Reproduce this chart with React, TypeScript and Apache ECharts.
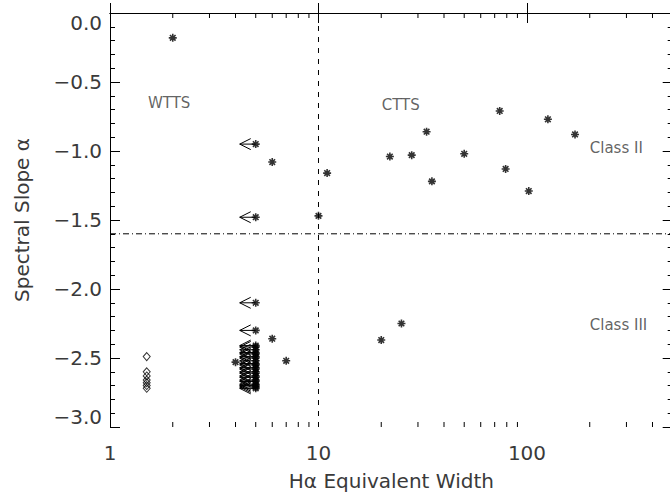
import React, { useEffect, useRef } from "react";
import * as echarts from "echarts";

// Detected sources (asterisks)
const starX = [2.0, 6.0, 11, 10, 22, 28, 33, 35, 50, 74, 79, 102, 126, 170, 20, 25, 6.0, 4.0, 7.0];
const starY = [-0.18, -1.08, -1.16, -1.47, -1.04, -1.03, -0.86, -1.22, -1.02, -0.71, -1.13, -1.29, -0.77, -0.88, -2.37, -2.25, -2.36, -2.53, -2.52];

// Upper limits in EW (asterisk with left arrow) at EW = 5
const limitX = [5, 5, 5, 5, 5, 5, 5, 5, 5, 5, 5, 5, 5, 5, 5, 5, 5, 5, 5, 5, 5, 5, 5, 5, 5, 5];
const limitY = [-0.95, -1.48, -2.10, -2.30, -2.41, -2.42, -2.44, -2.46, -2.47, -2.49, -2.50, -2.52, -2.54, -2.55, -2.57, -2.58, -2.60, -2.61, -2.63, -2.64, -2.66, -2.67, -2.69, -2.70, -2.71, -2.72];

// Diamonds
const diamondX = [1.5, 1.5, 1.5, 1.5, 1.5, 1.5, 1.5];
const diamondY = [-2.49, -2.60, -2.63, -2.66, -2.68, -2.70, -2.72];

// Division lines
const ewDivide = 10;
const alphaDivide = -1.6;

// Axes
const xMin = 1;
const xMax = 500;
const yMin = -3;
const yMax = 0;
const yInterval = 0.5;
const xMajorLabels = [1, 10, 100];
const xMinorTicks = [2, 3, 4, 5, 6, 7, 8, 9, 20, 30, 40, 50, 60, 70, 80, 90, 200, 300, 400];

// Annotations (left edge anchor)
const noteText = ["WTTS", "CTTS", "Class II", "Class III"];
const noteX = [1.52, 20.1, 200, 200];
const noteY = [-0.655, -0.665, -0.975, -2.26];

const FONT = "DejaVu Sans";
const TEXT = "#3a3a3a";
const starPath = "path://M4,0L4,8M0,4L8,4M1.2,1.2L6.8,6.8M1.2,6.8L6.8,1.2";

export default function App() {
  const ref = useRef<HTMLDivElement>(null);
  useEffect(() => {
    if (!ref.current) return;
    const chart = echarts.init(ref.current, null, { renderer: "svg" });
    const zip = (xs: number[], ys: number[]) => xs.map((x, i) => [x, ys[i]]);
    const xAxisBase = {
      type: "log",
      logBase: 10,
      min: xMin,
      max: xMax,
      axisLine: { show: true, lineStyle: { color: "#000", width: 1 } },
      axisTick: { show: true, inside: true, length: 10, lineStyle: { color: "#000" } },
      splitLine: { show: false },
    };
    const yAxisBase = {
      type: "value",
      min: yMin,
      max: yMax,
      interval: yInterval,
      axisLine: { show: true, onZero: false, lineStyle: { color: "#000", width: 1 } },
      axisTick: { show: true, inside: true, length: 10, lineStyle: { color: "#000" } },
      minorTick: { show: true, splitNumber: 5, length: 5, lineStyle: { color: "#000" } },
      splitLine: { show: false },
      minorSplitLine: { show: false },
    };
    chart.setOption({
      animation: false,
      backgroundColor: "#fff",
      grid: { left: 110, right: -2.7, top: 13, bottom: 66, containLabel: false, outerBoundsMode: "none" },
      xAxis: [
        {
          ...xAxisBase,
          position: "bottom",
          name: "Hα Equivalent Width",
          nameLocation: "middle",
          nameGap: 45,
          nameTextStyle: { fontFamily: FONT, fontSize: 20, lineHeight: 18, color: TEXT },
          axisLabel: {
            show: true,
            margin: 16,
            fontFamily: FONT,
            fontSize: 20,
            color: TEXT,
            showMaxLabel: false,
            formatter: (v: number) => (xMajorLabels.includes(Math.round(v)) ? String(Math.round(v)) : ""),
          },
        },
        { ...xAxisBase, position: "top", axisLabel: { show: false } },
      ],
      yAxis: [
        {
          ...yAxisBase,
          position: "left",
          name: "Spectral Slope α",
          nameLocation: "middle",
          nameRotate: 90,
          nameGap: 78,
          nameTextStyle: { fontFamily: FONT, fontSize: 20, color: TEXT },
          axisLabel: {
            show: true,
            margin: 8,
            fontFamily: FONT,
            fontSize: 20,
            color: TEXT,
            verticalAlignMaxLabel: "top",
            verticalAlignMinLabel: "bottom",
            formatter: (v: number) => (Math.abs(v) < 1e-9 ? "0.0" : "\u2212" + Math.abs(v).toFixed(1)),
          },
        },
        { ...yAxisBase, position: "right", axisLabel: { show: false } },
      ],
      series: [
        {
          type: "custom",
          name: "minorX",
          xAxisIndex: 0,
          yAxisIndex: 0,
          clip: false,
          silent: true,
          data: xMinorTicks.map((v) => [v, yMin]),
          renderItem: (params: any, api: any) => {
            const v = api.value(0);
            const b = api.coord([v, yMin]);
            const t = api.coord([v, yMax]);
            return {
              type: "group",
              children: [
                { type: "line", shape: { x1: b[0], y1: b[1], x2: b[0], y2: b[1] - 5 }, style: { stroke: "#000", lineWidth: 1 } },
                { type: "line", shape: { x1: t[0], y1: t[1], x2: t[0], y2: t[1] + 5 }, style: { stroke: "#000", lineWidth: 1 } },
              ],
            };
          },
        },
        {
          type: "line",
          data: [[ewDivide, yMin], [ewDivide, yMax]],
          symbol: "none",
          lineStyle: { color: "#000", width: 1, type: [5, 6] },
          silent: true,
        },
        {
          type: "line",
          data: [[xMin, alphaDivide], [xMax, alphaDivide]],
          symbol: "none",
          lineStyle: { color: "#000", width: 1, type: [6, 3, 1, 3] },
          silent: true,
        },
        {
          type: "custom",
          name: "limits",
          clip: false,
          data: zip(limitX, limitY),
          renderItem: (params: any, api: any) => {
            const p = api.coord([api.value(0), api.value(1)]);
            const tip = p[0] - 16;
            return {
              type: "group",
              children: [
                { type: "line", shape: { x1: p[0], y1: p[1], x2: tip, y2: p[1] }, style: { stroke: "#000", lineWidth: 1 } },
                {
                  type: "polyline",
                  shape: { points: [[tip + 11, p[1] - 5.5], [tip, p[1]], [tip + 11, p[1] + 5.5]] },
                  style: { stroke: "#000", fill: "none", lineWidth: 1 },
                },
              ],
            };
          },
        },
        {
          type: "scatter",
          data: [...zip(starX, starY), ...zip(limitX, limitY)],
          symbol: starPath,
          symbolSize: 8,
          itemStyle: { color: "#000", borderColor: "#000", borderWidth: 1.6 },
        },
        {
          type: "scatter",
          data: zip(diamondX, diamondY),
          symbol: "diamond",
          symbolSize: [7, 8],
          itemStyle: { color: "none", borderColor: "#000", borderWidth: 1 },
        },
        {
          type: "scatter",
          data: noteText.map((t, i) => ({ name: t, value: [noteX[i], noteY[i]] })),
          symbolSize: 0,
          silent: true,
          label: {
            show: true,
            position: "right",
            distance: 0,
            formatter: (p: any) => p.name,
            fontFamily: FONT,
            fontSize: 15,
            color: TEXT,
          },
        },
      ],
    });
    return () => chart.dispose();
  }, []);
  return (
    <div
      ref={ref}
      style={{ position: "fixed", left: 0, top: 0, width: 670, height: 493, background: "#fff" }}
    />
  );
}
